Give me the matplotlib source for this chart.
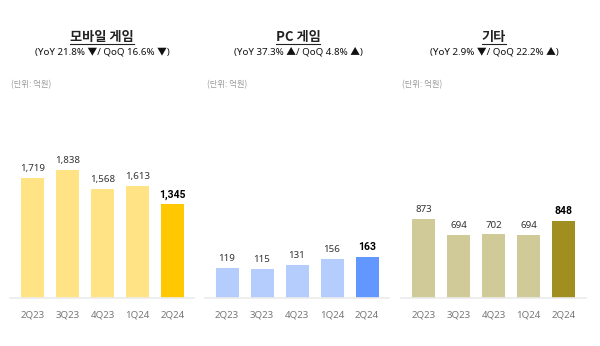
import matplotlib
matplotlib.use("Agg")
import matplotlib.pyplot as plt

plt.rcParams['font.family'] = ['Noto Sans', 'Noto Sans CJK KR', 'DejaVu Sans']
title_font = ['Noto Sans CJK KR', 'DejaVu Sans']
bold_font = ['Roboto', 'DejaVu Sans']

quarters = ['2Q23', '3Q23', '4Q23', '1Q24', '2Q24']
mobile = [1719, 1838, 1568, 1613, 1345]
pc = [119, 115, 131, 156, 163]
etc = [873, 694, 702, 694, 848]

titles = ['모바일 게임', 'PC 게임', '기타']
subtitles = ['(YoY 21.8% ▼/ QoQ 16.6% ▼)',
             '(YoY 37.3% ▲/ QoQ 4.8% ▲)',
             '(YoY 2.9% ▼/ QoQ 22.2% ▲)']
unit_label = '(단위: 억원)'

W, H = 600, 346
fig = plt.figure(figsize=(W / 100, H / 100), dpi=100)

# panel layout in pixels: (left, right, first bar center, px per unit, light, dark, title center, unit x)
panels = [
    (10, 194, 32.5, 0.0696, '#FFE384', '#FFC800', 102, 11, mobile),
    (205, 389, 227, 0.25, '#B4CDFD', '#6297FF', 298, 207, pc),
    (401, 586, 423.5, 0.0905, '#D0C998', '#A08F20', 494, 402, etc),
]
spacing = 35
bar_w = 23 / spacing
base_y = 298
top_y = 100

title_texts = []
for i, (l, r, c0, scale, light, dark, tx, ux, vals) in enumerate(panels):
    ax = fig.add_axes([l / W, (H - base_y) / H, (r - l) / W, (base_y - top_y) / H])
    ax.set_xlim((l - c0) / spacing, (r - c0) / spacing)
    ax.set_ylim(0, (base_y - top_y) / scale)
    colors = [light] * (len(vals) - 1) + [dark]
    ax.bar(range(len(vals)), vals, width=bar_w, color=colors)
    for j, v in enumerate(vals):
        if j == len(vals) - 1:
            ax.annotate(f'{v:,}', (j, v), xytext=(0, 3.5), textcoords='offset points',
                        ha='center', va='bottom', fontsize=7.5, color='black',
                        fontweight='bold', family=bold_font)
        else:
            ax.annotate(f'{v:,}', (j, v), xytext=(0, 3.5), textcoords='offset points',
                        ha='center', va='bottom', fontsize=7, color='#333333')
    ax.set_xticks(range(len(vals)))
    ax.set_xticklabels(quarters, fontsize=7, color='#777777')
    ax.tick_params(axis='x', length=0, pad=9)
    ax.set_yticks([])
    for s in ['top', 'left', 'right']:
        ax.spines[s].set_visible(False)
    ax.spines['bottom'].set_color('#EBEBEB')
    ax.spines['bottom'].set_linewidth(1.2)

    t = fig.text(tx / W, 1 - 37 / H, titles[i], ha='center', va='center',
                 fontsize=9.5, fontweight='bold', color='#222222', family=title_font)
    title_texts.append(t)
    fig.text(tx / W, 1 - 52 / H, subtitles[i], ha='center', va='center',
             fontsize=7, color='#111111')
    fig.text(ux / W, 1 - 85 / H, unit_label, ha='left', va='center',
             fontsize=6, color='#9A9A9A', family=title_font)

# underline the titles
renderer = fig.canvas.get_renderer()
for t in title_texts:
    bb = t.get_window_extent(renderer=renderer)
    x0, x1 = bb.x0 / W, bb.x1 / W
    fig.add_artist(plt.Line2D([x0, x1], [1 - 44 / H, 1 - 44 / H],
                              transform=fig.transFigure, color='#222222', lw=0.8))

fig.savefig('out.png', dpi=100)
